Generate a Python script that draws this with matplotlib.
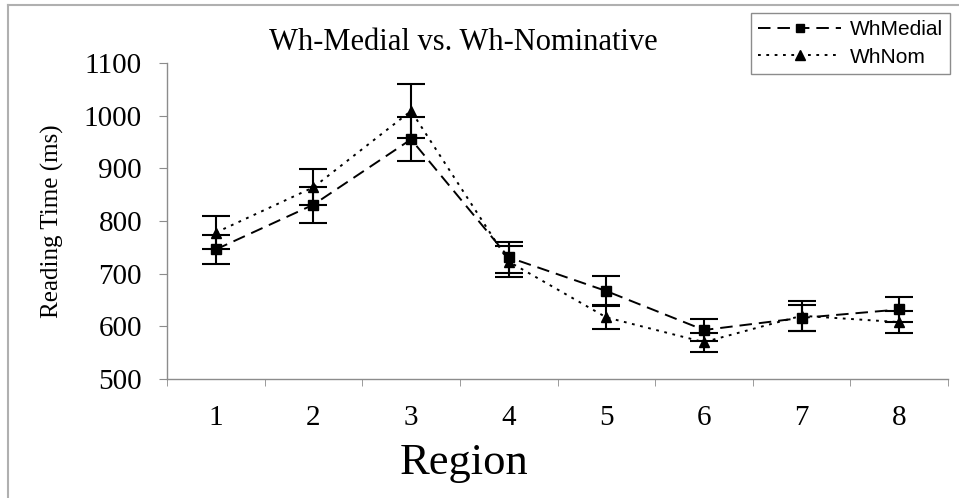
import matplotlib
matplotlib.use("Agg")
import matplotlib.pyplot as plt
from matplotlib.lines import Line2D

# data
regions = [1, 2, 3, 4, 5, 6, 7, 8]
medial = [746, 831, 955, 731, 667, 593, 616, 632]
medial_err = [28, 34, 42, 30, 28, 21, 24, 23]
nom = [778, 864, 1009, 723, 617, 570, 620, 608]
nom_err = [32, 34, 52, 30, 23, 18, 28, 21]
yticks = [500, 600, 700, 800, 900, 1000, 1100]

plt.rcParams['lines.scale_dashes'] = False
serif = 'Liberation Serif'
gray = '#8c8c8c'

fig = plt.figure(figsize=(9.59, 4.98), dpi=100)
ax = fig.add_axes([167/959, 1-379/498, (948-167)/959, (379-63)/498])

ax.errorbar(regions, medial, yerr=medial_err, color='black', lw=1.4,
            dashes=(9, 5), marker='s', markersize=6.5, ecolor='black',
            elinewidth=1.5, capsize=10, capthick=1.5, label='WhMedial')
ax.errorbar(regions, nom, yerr=nom_err, color='black', lw=1.4,
            dashes=(2, 4), marker='^', markersize=7, ecolor='black',
            elinewidth=1.5, capsize=10, capthick=1.5, label='WhNom')

ax.set_xlim(0.5, 8.5)
ax.set_ylim(500, 1100)
ax.set_yticks(yticks)
ax.set_xticks(regions)
ax.set_xticks([r - 0.5 for r in regions] + [8.5], minor=True)

ax.spines['top'].set_visible(False)
ax.spines['right'].set_visible(False)
for s in ['left', 'bottom']:
    ax.spines[s].set_color(gray)
    ax.spines[s].set_linewidth(1)

ax.tick_params(axis='y', direction='out', length=6, color=gray, pad=12)
ax.tick_params(axis='x', which='major', length=0, pad=19)
ax.tick_params(axis='x', which='minor', direction='out', length=5, color=gray)
for lab in ax.get_xticklabels() + ax.get_yticklabels():
    lab.set_fontfamily(serif)
    lab.set_fontsize(21)

ax.set_ylabel('Reading Time (ms)', fontfamily=serif, fontsize=18, labelpad=14)
fig.text(464/959, 1-463/498, 'Region', fontfamily=serif, fontsize=32,
         ha='center', va='center')
fig.text(463/959, 1-43/498, 'Wh-Medial vs. Wh-Nominative', fontfamily=serif,
         fontsize=22, ha='center', va='center')

h1 = Line2D([], [], color='black', lw=1.4, dashes=(9, 5), marker='s', markersize=6)
h2 = Line2D([], [], color='black', lw=1.4, dashes=(2, 4), marker='^', markersize=6.5)
leg = fig.legend([h1, h2], ['WhMedial', 'WhNom'], loc='upper right',
                 bbox_to_anchor=(950/959, 1-13/498), borderaxespad=0,
                 frameon=True, fancybox=False,
                 edgecolor=gray, framealpha=1, handlelength=4.0, borderpad=0.35,
                 labelspacing=0.4, handletextpad=0.4,
                 prop={'family': 'Liberation Sans', 'size': 15})
leg.get_frame().set_linewidth(1)

# outer chart border
fig.add_artist(Line2D([8/959, 8/959], [0, 1-5/498], color='#b0b0b0', lw=1.5,
                      transform=fig.transFigure))
fig.add_artist(Line2D([8/959, 1], [1-5/498, 1-5/498], color='#b0b0b0', lw=1.5,
                      transform=fig.transFigure))

plt.savefig('out.png', dpi=100)
